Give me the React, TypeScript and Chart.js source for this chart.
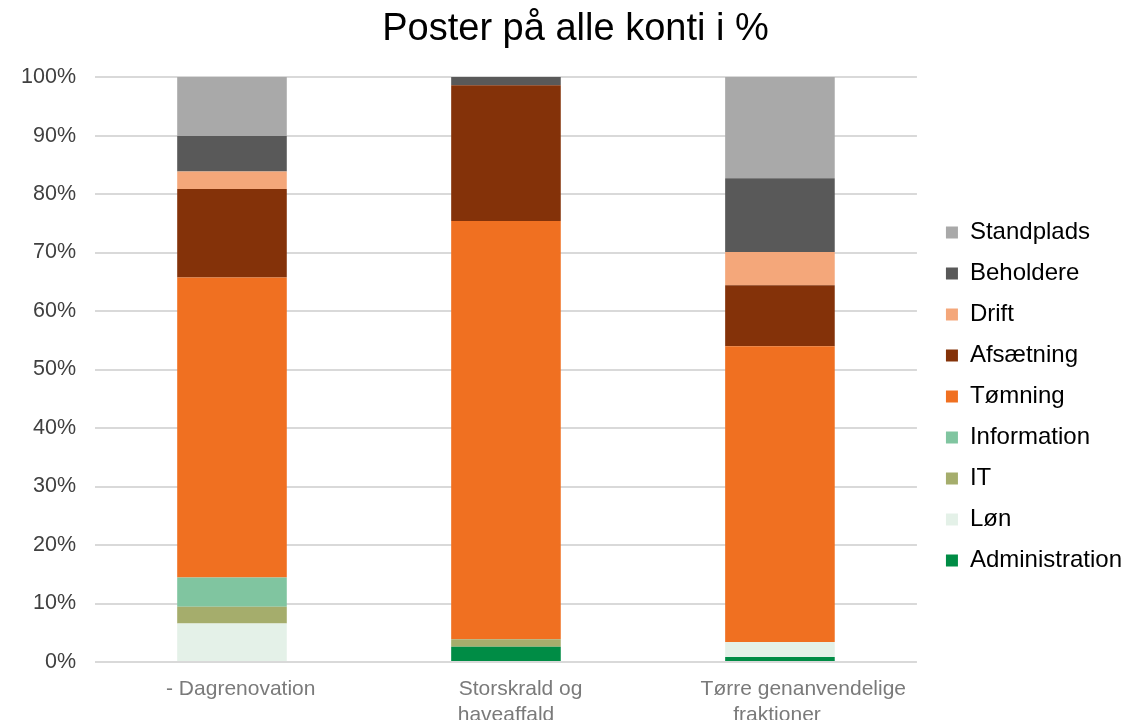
import React, { useEffect, useRef } from "react";
import { Chart, registerables } from "chart.js";

Chart.register(...registerables);

const categories: string[][] = [
  ["   - Dagrenovation"],
  ["     Storskrald og", "haveaffald"],
  ["        Tørre genanvendelige", "fraktioner "],
];

const seriesNames = [
  "Administration",
  "Løn",
  "IT",
  "Information",
  "Tømning",
  "Afsætning",
  "Drift",
  "Beholdere",
  "Standplads",
];

const administration = [0, 2.6, 0.85];
const loen = [6.6, 0, 2.55];
const it = [2.85, 1.3, 0];
const information = [5.0, 0, 0];
const toemning = [51.3, 71.5, 50.6];
const afsaetning = [15.1, 23.2, 10.4];
const drift = [3.0, 0, 5.7];
const beholdere = [6.1, 1.4, 12.6];
const standplads = [10.05, 0, 17.3];

const seriesValues = [administration, loen, it, information, toemning, afsaetning, drift, beholdere, standplads];

const seriesColors = [
  "#008C45",
  "#E4F1E8",
  "#A5AD6C",
  "#80C5A0",
  "#F07021",
  "#843209",
  "#F4A77A",
  "#595959",
  "#A9A9A9",
];

const yTicks = [0, 10, 20, 30, 40, 50, 60, 70, 80, 90, 100];

export default function App() {
  const ref = useRef<HTMLCanvasElement | null>(null);

  useEffect(() => {
    document.body.style.margin = "0";
    if (!ref.current) return;
    const chart = new Chart(ref.current, {
      type: "bar",
      data: {
        labels: categories,
        datasets: seriesNames.map((name, i) => ({
          label: name,
          data: seriesValues[i],
          backgroundColor: seriesColors[i],
          borderWidth: 0,
          categoryPercentage: 1,
          barPercentage: 0.4,
          yAxisID: "y",
        })),
      },
      options: {
        animation: false,
        responsive: false,
        maintainAspectRatio: false,
        layout: { padding: { left: 19, right: 16, top: 0, bottom: 0 } },
        plugins: {
          title: {
            display: true,
            text: "Poster på alle konti i %",
            color: "#000000",
            font: { family: "Liberation Sans", size: 38, weight: "normal" },
            padding: { top: 7, bottom: 24.5 },
          },
          legend: {
            position: "right",
            reverse: true,
            maxWidth: 320,
            title: {
              display: true,
              text: " ",
              font: { size: 10, lineHeight: 1 },
              padding: { top: 63, bottom: 0 },
            },
            labels: {
              color: "#000000",
              font: { family: "Liberation Sans", size: 24 },
              boxWidth: 12,
              boxHeight: 12,
              padding: 17,
            },
          },
          tooltip: { enabled: false },
        },
        scales: {
          x: {
            stacked: true,
            grid: { display: false, drawTicks: false },
            border: { display: false },
            afterFit: (axis: any) => {
              axis.height = 58;
            },
            ticks: {
              color: "#7A7A7A",
              font: { family: "Liberation Sans", size: 21, lineHeight: 1.2 },
              maxRotation: 0,
              autoSkip: false,
              padding: 15,
            },
          },
          y: {
            stacked: true,
            min: 0,
            max: 100,
            afterBuildTicks: (axis: any) => {
              axis.ticks = yTicks.map((v) => ({ value: v }));
            },
            afterFit: (axis: any) => {
              axis.width = 76;
            },
            grid: { color: "#D9D9D9", lineWidth: 2, drawTicks: false },
            border: { display: false },
            ticks: {
              color: "#404040",
              font: { family: "Liberation Sans", size: 21.5 },
              padding: 19,
              callback: (v: any) => v + "%",
            },
          },
          gap: {
            type: "linear",
            position: "right",
            display: true,
            grid: { display: false, drawTicks: false },
            border: { display: false },
            ticks: { display: false },
            afterFit: (axis: any) => {
              axis.width = 12;
            },
          },
        },
      },
    });
    return () => chart.destroy();
  }, []);

  return (
    <div style={{ width: 1148, height: 720 }}>
      <canvas ref={ref} width={1148} height={720} style={{ display: "block" }} />
    </div>
  );
}
